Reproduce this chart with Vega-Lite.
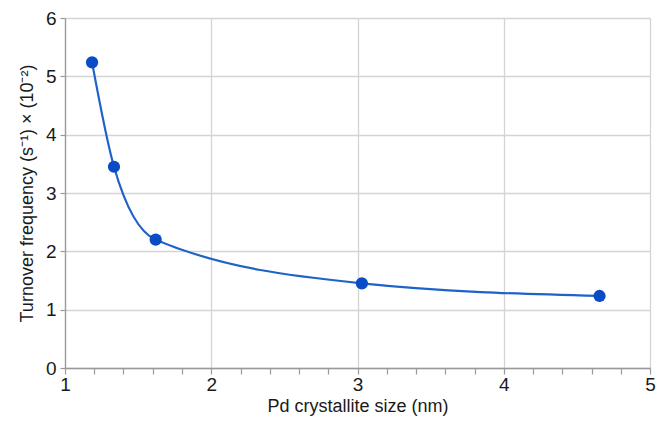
{
  "$schema": "https://vega.github.io/schema/vega-lite/v6.json",
  "autosize": "none",
  "width": 585,
  "height": 350,
  "padding": {"left": 65, "top": 18, "right": 8, "bottom": 55},
  "background": "white",
  "config": {
    "view": {"stroke": null},
    "font": "Liberation Sans"
  },
  "data": {
    "values": [
      {"size": 1.185, "tof": 5.24},
      {"size": 1.335, "tof": 3.45},
      {"size": 1.62, "tof": 2.2},
      {"size": 3.03, "tof": 1.45},
      {"size": 4.655, "tof": 1.235}
    ]
  },
  "encoding": {
    "x": {
      "field": "size",
      "type": "quantitative",
      "scale": {"domain": [1, 5], "nice": false, "zero": false},
      "axis": {
        "title": "Pd crystallite size (nm)",
        "values": [1, 1.2, 1.4, 1.6, 1.8, 2, 2.2, 2.4, 2.6, 2.8, 3, 3.2, 3.4, 3.6, 3.8, 4, 4.2, 4.4, 4.6, 4.8, 5],
        "labelExpr": "abs(datum.value - round(datum.value)) < 0.001 ? format(datum.value, 'd') : ''",
        "gridOpacity": {"condition": {"test": "abs(datum.value - round(datum.value)) > 0.001", "value": 0}, "value": 1},
        "tickSize": 6,
        "labelFont": "Liberation Sans",
        "titleFont": "Liberation Sans",
        "labelFontSize": 19,
        "titleFontSize": 18,
        "labelColor": "#1a1a1a",
        "titleColor": "#1a1a1a",
        "titleFontWeight": "normal",
        "gridColor": "#d4d4d4",
        "gridWidth": 1.3,
        "domainColor": "#9a9a9a",
        "domainWidth": 1.3,
        "tickColor": "#9a9a9a",
        "tickWidth": 1.2,
        "labelPadding": 1,
        "titlePadding": 3,
        "labelFlush": false
      }
    },
    "y": {
      "field": "tof",
      "type": "quantitative",
      "scale": {"domain": [0, 6], "nice": false},
      "axis": {
        "title": "Turnover frequency (s⁻¹) × (10⁻²)",
        "values": [0, 1, 2, 3, 4, 5, 6],
        "labelExpr": "format(datum.value, 'd')",
        "labelFont": "Liberation Sans",
        "titleFont": "Liberation Sans",
        "labelFontSize": 19,
        "titleFontSize": 18,
        "labelColor": "#1a1a1a",
        "titleColor": "#1a1a1a",
        "titleFontWeight": "normal",
        "gridColor": "#d4d4d4",
        "gridWidth": 1.3,
        "domainColor": "#9a9a9a",
        "domainWidth": 1.3,
        "tickColor": "#9a9a9a",
        "tickWidth": 1.2,
        "tickSize": 5,
        "labelPadding": 4,
        "titlePadding": 9
      }
    }
  },
  "layer": [
    {
      "mark": {"type": "line", "interpolate": "monotone", "color": "#1f62c8", "strokeWidth": 2.2}
    },
    {
      "mark": {"type": "point", "filled": true, "opacity": 1, "size": 150, "color": "#0a4cc6"}
    }
  ]
}
